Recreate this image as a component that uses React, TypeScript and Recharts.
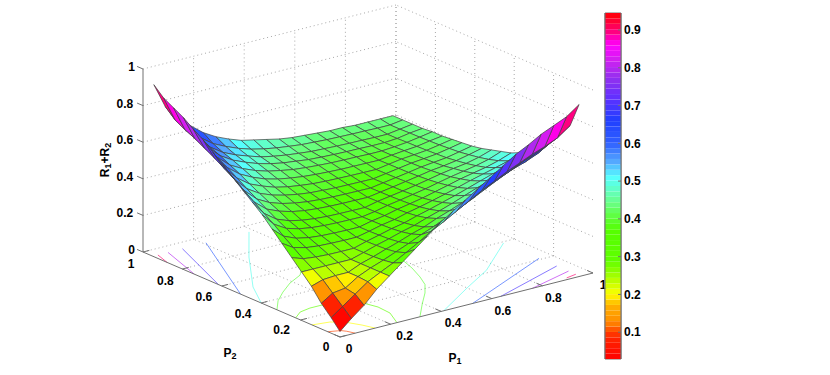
import React from "react";
import { BarChart, Bar, ScatterChart, Scatter, XAxis, YAxis, ReferenceArea } from "recharts";

const W = 830;
const H = 375;

// Grid positions along P1 and P2
const gridP = [0, 0.045, 0.095, 0.145, 0.195, 0.245, 0.295, 0.345, 0.395, 0.445, 0.495, 0.545, 0.595, 0.645, 0.695, 0.745, 0.795, 0.845, 0.895, 0.945];

// R1+R2, lower triangle: surfaceRows[i][j] with j <= i (the picture is symmetric in P1 and P2)
const surfaceRows = [
  [0.03],
  [0.085, 0.13],
  [0.14, 0.18, 0.19],
  [0.21, 0.23, 0.235, 0.235],
  [0.265, 0.265, 0.265, 0.265, 0.265],
  [0.32, 0.298, 0.29, 0.286, 0.285, 0.285],
  [0.375, 0.336, 0.318, 0.31, 0.307, 0.305, 0.305],
  [0.43, 0.375, 0.346, 0.332, 0.325, 0.322, 0.32, 0.32],
  [0.485, 0.418, 0.377, 0.357, 0.346, 0.34, 0.337, 0.336, 0.335],
  [0.53, 0.454, 0.404, 0.378, 0.363, 0.354, 0.349, 0.347, 0.346, 0.345],
  [0.575, 0.493, 0.436, 0.407, 0.387, 0.375, 0.368, 0.364, 0.362, 0.361, 0.36],
  [0.62, 0.532, 0.468, 0.431, 0.408, 0.393, 0.383, 0.377, 0.374, 0.372, 0.371, 0.37],
  [0.665, 0.571, 0.501, 0.458, 0.431, 0.413, 0.4, 0.391, 0.387, 0.383, 0.382, 0.381, 0.38],
  [0.71, 0.605, 0.536, 0.486, 0.457, 0.433, 0.418, 0.408, 0.4, 0.396, 0.394, 0.392, 0.391, 0.39],
  [0.755, 0.64, 0.57, 0.517, 0.482, 0.455, 0.437, 0.425, 0.416, 0.41, 0.406, 0.403, 0.402, 0.401, 0.4],
  [0.79, 0.67, 0.602, 0.543, 0.506, 0.478, 0.457, 0.443, 0.431, 0.424, 0.419, 0.415, 0.413, 0.412, 0.41, 0.41],
  [0.83, 0.7, 0.635, 0.571, 0.529, 0.5, 0.475, 0.457, 0.444, 0.436, 0.427, 0.423, 0.42, 0.418, 0.417, 0.415, 0.415],
  [0.86, 0.725, 0.662, 0.594, 0.548, 0.517, 0.493, 0.471, 0.457, 0.446, 0.438, 0.431, 0.428, 0.425, 0.423, 0.422, 0.42, 0.42],
  [0.89, 0.755, 0.692, 0.623, 0.573, 0.54, 0.512, 0.49, 0.474, 0.462, 0.453, 0.445, 0.441, 0.437, 0.435, 0.433, 0.432, 0.43, 0.43],
  [0.94, 0.805, 0.735, 0.665, 0.61, 0.57, 0.54, 0.515, 0.5, 0.485, 0.47, 0.46, 0.455, 0.45, 0.445, 0.445, 0.44, 0.44, 0.44, 0.44],
];

// Floor contours as [P1, P2] polylines with their level
const contours: { level: number; pts: number[][] }[] = [
  { level: 0.1, pts: [[0.06, 0], [0.05, 0.03], [0.04, 0.045], [0.03, 0.05], [0, 0.062]] },
  { level: 0.2, pts: [[0.139, 0], [0.124, 0.047], [0.106, 0.085], [0.1, 0.1], [0.0616, 0.13], [0, 0.142]] },
  { level: 0.3, pts: [[0.225, 0], [0.263, 0.084], [0.268, 0.151], [0.254, 0.209], [0.2, 0.27]] },
  { level: 0.3, pts: [[0, 0.225], [0.045, 0.26], [0.092, 0.271], [0.14, 0.271], [0.2, 0.27]] },
  { level: 0.4, pts: [[0.316, 0], [0.395, 0.09], [0.466, 0.167], [0.515, 0.23], [0.546, 0.295], [0.578, 0.377], [0.6, 0.453]] },
  { level: 0.4, pts: [[0, 0.32], [0.055, 0.385], [0.117, 0.44], [0.187, 0.494], [0.258, 0.534], [0.3, 0.58]] },
  { level: 0.5, pts: [[0.41, 0], [0.607, 0.13], [0.75, 0.22], [0.95, 0.39]] },
  { level: 0.5, pts: [[0, 0.4], [0.072, 0.534], [0.235, 0.764], [0.38, 0.95]] },
  { level: 0.6, pts: [[0.524, 0], [0.95, 0.21]] },
  { level: 0.6, pts: [[0, 0.505], [0.21, 0.95]] },
  { level: 0.7, pts: [[0.636, 0], [0.95, 0.12]] },
  { level: 0.7, pts: [[0, 0.617], [0.117, 0.95]] },
  { level: 0.8, pts: [[0.76, 0], [0.95, 0.06]] },
  { level: 0.8, pts: [[0, 0.74], [0.06, 0.95]] },
  { level: 0.9, pts: [[0.906, 0.013], [0.95, 0.023]] },
  { level: 0.9, pts: [[0, 0.878], [0.02, 0.95]] },
];

const axisTicks = [0, 0.2, 0.4, 0.6, 0.8, 1];
const axisTickLabels = ["0", "0.2", "0.4", "0.6", "0.8", "1"];
const colorbarTicks = [0.1, 0.2, 0.3, 0.4, 0.5, 0.6, 0.7, 0.8, 0.9];

const colorStops: [number, number[]][] = [
  [0.029, [255, 0, 0]],
  [0.09, [255, 42, 0]],
  [0.13, [255, 144, 0]],
  [0.17, [255, 176, 0]],
  [0.2, [255, 255, 0]],
  [0.25, [160, 255, 0]],
  [0.29, [95, 255, 0]],
  [0.37, [85, 255, 0]],
  [0.41, [95, 255, 70]],
  [0.44, [105, 255, 130]],
  [0.47, [100, 255, 185]],
  [0.51, [85, 255, 255]],
  [0.55, [85, 170, 255]],
  [0.6, [48, 96, 255]],
  [0.66, [32, 64, 255]],
  [0.72, [96, 48, 255]],
  [0.77, [144, 48, 240]],
  [0.82, [208, 32, 240]],
  [0.86, [255, 0, 255]],
  [0.9, [255, 0, 110]],
  [0.945, [255, 0, 0]],
];

const C_MIN = 0.029;
const C_MAX = 0.945;
const LEVELS = 64;

function lerpColor(v: number) {
  let c = colorStops[colorStops.length - 1][1];
  for (let k = 0; k < colorStops.length - 1; k++) {
    const [a, ca] = colorStops[k];
    const [b, cb] = colorStops[k + 1];
    if (v <= b) {
      const t = Math.max(0, (v - a) / (b - a));
      c = ca.map((x, n) => Math.round(x + (cb[n] - x) * t));
      break;
    }
  }
  return `rgb(${c[0]},${c[1]},${c[2]})`;
}
function colorOf(v: number) {
  const w = (C_MAX - C_MIN) / LEVELS;
  const k = Math.min(LEVELS - 1, Math.max(0, Math.floor((v - C_MIN) / w)));
  return lerpColor(C_MIN + (k + 0.5) * w);
}

// Fixed view of the box: floor corner, P1 end, P2 end, height of z = 1
function project(p1: number, p2: number, z: number): number[] {
  return [340 + 253 * p1 - 197 * p2, 337 - 64 * p1 - 85 * p2 - 183 * z];
}
const zAt = (i: number, j: number) => (j <= i ? surfaceRows[i][j] : surfaceRows[j][i]);

type Item = { vx: number; vy: number; path: number[][]; fill?: string; stroke?: string; text?: string };
const pathItem = (path: number[][], stroke: string): Item => ({ vx: path[0][0], vy: path[0][1], path, stroke });

const gridItems: Item[] = [];
for (const k of axisTicks.slice(1)) {
  gridItems.push(pathItem([project(k, 0, 0), project(k, 1, 0)], "dot"));
  gridItems.push(pathItem([project(0, k, 0), project(1, k, 0)], "dot"));
  gridItems.push(pathItem([project(k, 1, 0), project(k, 1, 1)], "dot"));
  gridItems.push(pathItem([project(1, k, 0), project(1, k, 1)], "dot"));
  gridItems.push(pathItem([project(0, 1, k), project(1, 1, k)], "dot"));
  gridItems.push(pathItem([project(1, 0, k), project(1, 1, k)], "dot"));
}

const AXIS = "#707070";
const axisItems: Item[] = [
  pathItem([project(0, 0, 0), project(1, 0, 0)], AXIS),
  pathItem([project(0, 0, 0), project(0, 1, 0)], AXIS),
  pathItem([project(0, 1, 0), project(0, 1, 1)], AXIS),
];
for (const k of axisTicks) {
  axisItems.push(pathItem([project(k, 0, 0), project(k, 0.03, 0)], AXIS));
  axisItems.push(pathItem([project(0, k, 0), project(0.025, k, 0)], AXIS));
  axisItems.push(pathItem([project(0, 1, k), project(0, 1.03, k)], AXIS));
}

const contourItems: Item[] = contours.map((c) =>
  pathItem(c.pts.map(([a, b]) => project(a, b, 0)), lerpColor(c.level))
);

const cellItems: Item[] = [];
for (let s = 2 * (gridP.length - 2); s >= 0; s--) {
  for (let i = 0; i < gridP.length - 1; i++) {
    const j = s - i;
    if (j < 0 || j >= gridP.length - 1) continue;
    const path = [
      project(gridP[i], gridP[j], zAt(i, j)),
      project(gridP[i + 1], gridP[j], zAt(i + 1, j)),
      project(gridP[i + 1], gridP[j + 1], zAt(i + 1, j + 1)),
      project(gridP[i], gridP[j + 1], zAt(i, j + 1)),
    ];
    cellItems.push({ vx: path[0][0], vy: path[0][1], path, fill: colorOf(zAt(i, j)) });
  }
}

const offsetP1 = [[9, 12], [14, 12], [12, 12], [11, 12], [11, 12], [10, 12]];
const offsetP2 = [[-14, 10], [-19, 10], [-18, 11], [-18, 11], [-17, 12], [-12, 12]];
const labelItems: Item[] = [];
axisTicks.forEach((k, n) => {
  const a = project(k, 0, 0);
  labelItems.push({ vx: a[0] + offsetP1[n][0], vy: a[1] + offsetP1[n][1], path: [], text: axisTickLabels[n] });
  const b = project(0, k, 0);
  labelItems.push({ vx: b[0] + offsetP2[n][0], vy: b[1] + offsetP2[n][1], path: [], text: axisTickLabels[n] });
  const c = project(0, 1, k);
  const t = axisTickLabels[n];
  labelItems.push({ vx: c[0] - 8 - 3.4 * t.length, vy: c[1] - 2, path: [], text: t });
});

const FONT = "'Liberation Sans', Arial, sans-serif";

const LineShape = (props: any) => {
  const it: Item = props.payload;
  const dx = props.cx - it.vx;
  const dy = props.cy - it.vy;
  const pts = it.path.map(([x, y]) => `${x + dx},${y + dy}`).join(" ");
  if (it.stroke === "dot")
    return <polyline points={pts} fill="none" stroke="#a8a8a8" strokeWidth={1} strokeDasharray="1 3" />;
  return <polyline points={pts} fill="none" stroke={it.stroke} strokeWidth={1} />;
};
const ContourShape = (props: any) => {
  const it: Item = props.payload;
  const dx = props.cx - it.vx;
  const dy = props.cy - it.vy;
  const pts = it.path.map(([x, y]) => `${x + dx},${y + dy}`).join(" ");
  return <polyline points={pts} fill="none" stroke={it.stroke} strokeWidth={1} strokeOpacity={0.65} strokeLinejoin="round" />;
};
const CellShape = (props: any) => {
  const it: Item = props.payload;
  const dx = props.cx - it.vx;
  const dy = props.cy - it.vy;
  const pts = it.path.map(([x, y]) => `${x + dx},${y + dy}`).join(" ");
  return <polygon points={pts} fill={it.fill} stroke="#404040" strokeWidth={0.7} strokeLinejoin="round" />;
};
const LabelShape = (props: any) => (
  <text x={props.cx} y={props.cy} textAnchor="middle" dominantBaseline="central" fontFamily={FONT} fontSize={12} fontWeight="bold" fill="#000">
    {props.payload.text}
  </text>
);

const titleItems: Item[] = [
  { vx: 230, vy: 353, path: [], text: "2" },
  { vx: 455, vy: 358, path: [], text: "1" },
];
const TitleShape = (props: any) => (
  <text x={props.cx} y={props.cy} textAnchor="middle" dominantBaseline="central" fontFamily={FONT} fontSize={12} fontWeight="bold" fill="#000">
    P<tspan fontSize={9} dy={3}>{props.payload.text}</tspan>
  </text>
);
const zTitleItems: Item[] = [{ vx: 105, vy: 160, path: [], text: "R1+R2" }];
const ZTitleShape = (props: any) => (
  <text transform={`rotate(-90 ${props.cx} ${props.cy})`} x={props.cx} y={props.cy} textAnchor="middle" dominantBaseline="central" fontFamily={FONT} fontSize={12} fontWeight="bold" fill="#000">
    R<tspan fontSize={9} dy={3}>1</tspan>
    <tspan dy={-3}>+R</tspan>
    <tspan fontSize={9} dy={3}>2</tspan>
  </text>
);

// Colour bar: one stacked column of 64 equal bands above the hidden base
const bandKeys = Array.from({ length: LEVELS }, (_, k) => `b${k}`);
const barRow: Record<string, number | string> = { name: "bar", base: C_MIN };
bandKeys.forEach((k) => {
  barRow[k] = (C_MAX - C_MIN) / LEVELS;
});

export default function App() {
  return (
    <div style={{ position: "absolute", left: 0, top: 0, width: W, height: H, background: "#fff", overflow: "hidden" }}>
      <div style={{ position: "absolute", left: 0, top: 0 }}>
        <ScatterChart width={W} height={H} margin={{ top: 0, right: 0, bottom: 0, left: 0 }}>
          <XAxis type="number" dataKey="vx" domain={[0, W]} hide allowDataOverflow />
          <YAxis type="number" dataKey="vy" domain={[0, H]} reversed hide allowDataOverflow />
          <Scatter data={gridItems} shape={LineShape} isAnimationActive={false} />
          <Scatter data={contourItems} shape={ContourShape} isAnimationActive={false} />
          <Scatter data={axisItems} shape={LineShape} isAnimationActive={false} />
          <Scatter data={cellItems} shape={CellShape} isAnimationActive={false} />
          <Scatter data={labelItems} shape={LabelShape} isAnimationActive={false} />
          <Scatter data={titleItems} shape={TitleShape} isAnimationActive={false} />
          <Scatter data={zTitleItems} shape={ZTitleShape} isAnimationActive={false} />
        </ScatterChart>
      </div>
      <div style={{ position: "absolute", left: 600, top: 0 }}>
        <BarChart width={60} height={H} data={[barRow]} margin={{ top: 13, right: 0, bottom: 16, left: 0 }} barCategoryGap={0}>
          <XAxis dataKey="name" hide />
          <YAxis yAxisId="left" orientation="left" width={5} type="number" domain={[C_MIN, C_MAX]} allowDataOverflow ticks={colorbarTicks} tick={false} tickSize={-3} stroke={AXIS} />
          <YAxis yAxisId="right" orientation="right" width={39} type="number" domain={[C_MIN, C_MAX]} allowDataOverflow ticks={colorbarTicks} tickSize={-3} tickMargin={6} stroke={AXIS} tick={{ fontFamily: FONT, fontSize: 12, fontWeight: "bold", fill: "#000" }} tickFormatter={(v: number) => v.toFixed(1)} />
          <Bar yAxisId="left" dataKey="base" stackId="c" fill="none" isAnimationActive={false} />
          {bandKeys.map((k, n) => (
            <Bar key={k} yAxisId="left" dataKey={k} stackId="c" fill={lerpColor(C_MIN + (n + 0.5) * (C_MAX - C_MIN) / LEVELS)} isAnimationActive={false} />
          ))}
          <ReferenceArea yAxisId="left" y1={C_MIN} y2={C_MAX} fill="none" stroke={AXIS} strokeWidth={1} />
        </BarChart>
      </div>
    </div>
  );
}
